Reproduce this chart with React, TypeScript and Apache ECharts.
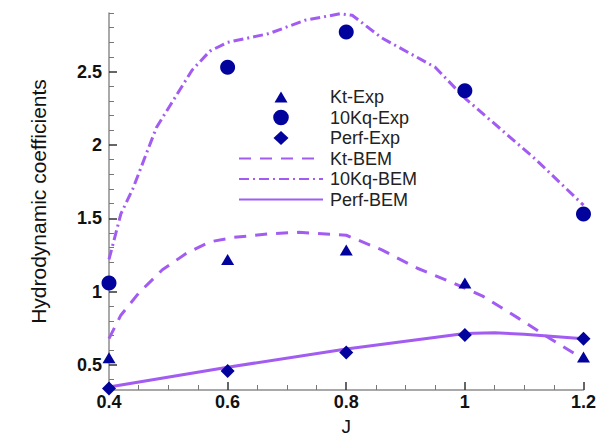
import React, { useEffect, useRef } from "react";
import * as echarts from "echarts";

const jExp = [0.4, 0.6, 0.8, 1.0, 1.2];
const ktExp = [0.55, 1.22, 1.285, 1.06, 0.555];
const kqExp = [1.06, 2.53, 2.77, 2.37, 1.53];
const perfExp = [0.34, 0.46, 0.585, 0.705, 0.68];

const ktBemJ = [0.4, 0.42, 0.45, 0.49, 0.53, 0.57, 0.61, 0.67, 0.72, 0.8, 0.86, 0.92, 0.98, 1.03, 1.09, 1.14, 1.2];
const ktBem = [0.68, 0.84, 0.99, 1.15, 1.26, 1.34, 1.37, 1.395, 1.405, 1.385, 1.285, 1.16, 1.06, 0.97, 0.82, 0.69, 0.54];

const kqBemJ = [0.4, 0.42, 0.44, 0.48, 0.54, 0.57, 0.6, 0.67, 0.73, 0.79, 0.81, 0.86, 0.95, 1.0, 1.06, 1.12, 1.2];
const kqBem = [1.22, 1.53, 1.7, 2.12, 2.51, 2.64, 2.7, 2.76, 2.85, 2.895, 2.885, 2.73, 2.53, 2.32, 2.11, 1.9, 1.59];

const perfBemJ = [0.4, 0.6, 0.8, 1.0, 1.05, 1.1, 1.2];
const perfBem = [0.35, 0.485, 0.61, 0.715, 0.72, 0.71, 0.68];

const yMajorTicks = [0.5, 1, 1.5, 2, 2.5];
const yMinorTicks = [0.4, 0.6, 0.7, 0.8, 0.9, 1.1, 1.2, 1.3, 1.4, 1.6, 1.7, 1.8, 1.9, 2.1, 2.2, 2.3, 2.4, 2.6, 2.7, 2.8, 2.9];

const MARK = "#02029c";
const LINE = "#a25cf2";
const FONT = "'Liberation Sans', Arial, sans-serif";

// legend icons: invisible move-to corners keep the 84x16 box so the marker keeps its own size
const TRI_ICON = "path://M0,0M84,16M35.5,13.5L48.5,13.5L42,2.5Z";
const DIA_ICON = "path://M0,0M84,16M42,1L49.5,8L42,15L34.5,8Z";
const CIR_ICON = "path://M0,0M84,16M34.2,8A7.8,7.8,0,1,0,49.8,8A7.8,7.8,0,1,0,34.2,8Z";

const pairs = (xs: number[], ys: number[]) => xs.map((x, i) => [x, ys[i]]);

export default function App() {
  const ref = useRef<HTMLDivElement>(null);
  useEffect(() => {
    if (!ref.current) return;
    const chart = echarts.init(ref.current, undefined, { renderer: "svg" });
    const yBase = {
      type: "value",
      min: 0.33,
      max: 2.9,
      splitLine: { show: false },
      position: "left",
    };
    const markStyle = { color: MARK, opacity: 1 };
    chart.setOption({
      animation: false,
      backgroundColor: "#ffffff",
      grid: { left: 109, right: 15, top: 13, bottom: 44 },
      legend: {
        orient: "vertical",
        left: 233,
        top: 83,
        itemWidth: 84,
        itemHeight: 16,
        itemGap: 2.5,
        data: [
          { name: "Kt-Exp", icon: TRI_ICON },
          { name: "10Kq-Exp", icon: CIR_ICON },
          { name: "Perf-Exp", icon: DIA_ICON },
          { name: "Kt-BEM", itemStyle: { opacity: 0 } },
          { name: "10Kq-BEM", itemStyle: { opacity: 0 } },
          { name: "Perf-BEM", itemStyle: { opacity: 0 } },
        ],
        textStyle: { fontFamily: FONT, fontSize: 18, color: "#222", padding: [0, 0, 0, 2] },
      },
      xAxis: {
        type: "value",
        min: 0.4,
        max: 1.2,
        interval: 0.2,
        name: "J",
        nameLocation: "middle",
        nameGap: 27,
        nameTextStyle: { fontFamily: FONT, fontSize: 19, color: "#111" },
        axisLine: { lineStyle: { color: "#8c8c8c", width: 1.5 } },
        axisTick: { inside: true, length: 8, lineStyle: { color: "#333", width: 1.5 } },
        minorTick: { show: true, splitNumber: 4, length: 5, lineStyle: { color: "#777", width: 1 } },
        splitLine: { show: false },
        axisLabel: {
          margin: 3,
          fontFamily: FONT,
          fontSize: 18,
          fontWeight: "bold",
          color: "#111",
          formatter: (v: number) => String(Math.round(v * 10) / 10),
        },
      },
      yAxis: [
        {
          ...yBase,
          name: "Hydrodynamic coefficients",
          nameLocation: "middle",
          nameGap: 60,
          nameTextStyle: { fontFamily: FONT, fontSize: 21, color: "#111" },
          axisLine: { show: true, lineStyle: { color: "#8c8c8c", width: 1.5 } },
          axisTick: { show: true, inside: true, length: 8, customValues: yMajorTicks, lineStyle: { color: "#333", width: 1.5 } },
          axisLabel: {
            margin: 7,
            customValues: yMajorTicks,
            fontFamily: FONT,
            fontSize: 18,
            fontWeight: "bold",
            color: "#111",
          },
        },
        {
          ...yBase,
          axisLine: { show: false },
          axisTick: { show: true, inside: true, length: 5, customValues: yMinorTicks, lineStyle: { color: "#777", width: 1 } },
          axisLabel: { show: false },
        },
      ],
      series: [
        {
          name: "Kt-Exp",
          type: "scatter",
          symbol: "triangle",
          symbolSize: [13, 11],
          itemStyle: markStyle,
          data: pairs(jExp, ktExp),
          z: 5,
        },
        {
          name: "10Kq-Exp",
          type: "scatter",
          symbol: "circle",
          symbolSize: 15,
          itemStyle: markStyle,
          data: pairs(jExp, kqExp),
          z: 5,
        },
        {
          name: "Perf-Exp",
          type: "scatter",
          symbol: "diamond",
          symbolSize: 14,
          itemStyle: markStyle,
          data: pairs(jExp, perfExp),
          z: 5,
        },
        {
          name: "Kt-BEM",
          type: "line",
          symbol: "none",
          itemStyle: { color: LINE },
          lineStyle: { color: LINE, width: 3, type: [12, 9] },
          data: pairs(ktBemJ, ktBem),
          z: 2,
        },
        {
          name: "10Kq-BEM",
          type: "line",
          symbol: "none",
          itemStyle: { color: LINE },
          lineStyle: { color: LINE, width: 3, type: [10, 4, 2, 4] },
          data: pairs(kqBemJ, kqBem),
          z: 2,
        },
        {
          name: "Perf-BEM",
          type: "line",
          symbol: "none",
          itemStyle: { color: LINE },
          lineStyle: { color: LINE, width: 3 },
          data: pairs(perfBemJ, perfBem),
          z: 2,
        },
      ],
    });
    return () => chart.dispose();
  }, []);
  return (
    <div
      ref={ref}
      style={{ position: "fixed", left: 0, top: 0, width: 599, height: 441, background: "#fff" }}
    />
  );
}
